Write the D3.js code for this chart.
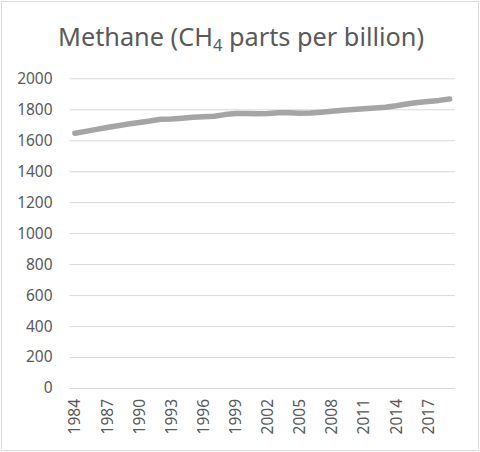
<!DOCTYPE html>
<html>
<head>
<meta charset="utf-8">
<script src="https://cdn.jsdelivr.net/npm/d3@7"></script>
<style>
  html, body { margin: 0; padding: 0; background: #fff; }
  svg { display: block; }
</style>
</head>
<body>
<svg id="chart" width="480" height="452"></svg>
<script>
// annual mean methane, ppb
const years = d3.range(1984, 2020);
const methane = [
    1644.8, 1657.3, 1670.1, 1682.7, 1693.3, 1704.6, 1714.6, 1724.2, 1735.4, 1736.5,
    1742.1, 1748.5, 1751.4, 1754.6, 1765.6, 1772.4, 1773.2, 1771.3, 1772.7, 1777.3,
    1777.0, 1774.2, 1775.2, 1781.4, 1787.0, 1793.5, 1798.9, 1803.2, 1808.2, 1813.4,
    1822.6, 1834.4, 1843.1, 1849.7, 1857.3, 1866.6,
];
const yTicks = [0, 200, 400, 600, 800, 1000, 1200, 1400, 1600, 1800, 2000];
const xTickYears = years.filter((y) => (y - 1984) % 3 === 0);

const width = 480,
    height = 452;
const margin = { left: 69.6, right: 25, top: 78.3, bottom: 64 };
const textColor = "#595959";
const font = "'Noto Sans', 'Open Sans', sans-serif";

const svg = d3.select("#chart");

// outer chart border
svg.append("rect")
    .attr("x", 1.5)
    .attr("y", 1.5)
    .attr("width", width - 3)
    .attr("height", height - 3)
    .attr("fill", "#fff")
    .attr("stroke", "#d9d9d9")
    .attr("stroke-width", 1);

const x = d3.scaleBand()
    .domain(years)
    .range([margin.left, width - margin.right]);

const y = d3.scaleLinear()
    .domain([0, 2000])
    .range([height - margin.bottom, margin.top]);

// title
const title = svg.append("text")
    .attr("x", 241)
    .attr("y", 46)
    .attr("text-anchor", "middle")
    .attr("fill", textColor)
    .style("font-family", font)
    .style("font-size", "25.3px");
title.append("tspan").text("Methane (CH");
title.append("tspan").attr("dy", 5).style("font-size", "16.5px").text("4");
title.append("tspan").attr("dy", -5).text(" parts per billion)");

// gridlines via y axis
const yAxis = svg.append("g")
    .attr("transform", `translate(${margin.left},0)`)
    .call(
        d3.axisLeft(y)
            .tickValues(yTicks)
            .tickSize(-(width - margin.left - margin.right))
            .tickPadding(17)
            .tickFormat(d3.format("d"))
    );
yAxis.select(".domain").remove();
yAxis.selectAll(".tick line").attr("stroke", "#d9d9d9").attr("stroke-width", 1);
yAxis.selectAll(".tick text")
    .attr("fill", textColor)
    .style("font-family", font)
    .style("font-size", "15.5px");

// x axis labels, rotated
const xAxis = svg.append("g")
    .attr("transform", `translate(0,${y(0)})`)
    .call(d3.axisBottom(x).tickValues(xTickYears).tickSize(0).tickPadding(0));
xAxis.select(".domain").remove();
xAxis.selectAll(".tick text")
    .attr("fill", textColor)
    .style("font-family", font)
    .style("font-size", "15.5px")
    .attr("text-anchor", "end")
    .attr("transform", "rotate(-90)")
    .attr("x", -11)
    .attr("y", 0)
    .attr("dy", "0.35em");

// the series line
const line = d3.line()
    .x((d, i) => x(years[i]) + x.bandwidth() / 2)
    .y((d) => y(d));

svg.append("path")
    .datum(methane)
    .attr("d", line)
    .attr("fill", "none")
    .attr("stroke", "#a5a5a5")
    .attr("stroke-width", 5.5)
    .attr("stroke-linecap", "round")
    .attr("stroke-linejoin", "round");
</script>
</body>
</html>
